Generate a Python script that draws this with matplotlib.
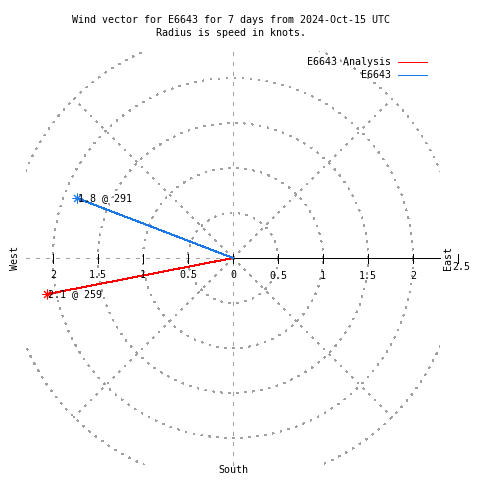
import numpy as np
import matplotlib
matplotlib.use('Agg')
from matplotlib import pyplot as plt
from matplotlib.patches import Rectangle

# chart data
title_lines = ['Wind vector for E6643 for 7 days from 2024-Oct-15 UTC',
               'Radius is speed in knots.']
series_names = ['E6643 Analysis', 'E6643']
speeds = [2.1, 1.86]          # knots
directions = [259, 291]       # degrees, clockwise from north
point_labels = ['2.1 @ 259', '1.8 @ 291']
series_colors = ['#ff0000', '#1c78e6']
ring_radii = [0.5, 1.0, 1.5, 2.0, 2.5]
spoke_angles = [45, 135, 225, 315]
left_ticks = [2, 1.5, 1, 0.5, 0]
right_ticks = [0.5, 1, 1.5, 2]
outer_tick = 2.5

# layout (pixels)
W, H = 480, 480
PX = 90.0            # pixels per knot
CX, CY = 233, 258    # centre of the plot in pixels
BOX = 2.3            # clipping box half size in knots
GREY = '#a0a0a0'
LW = 0.72            # one pixel
FS = 7.2
FONT = 'DejaVu Sans Mono'

plt.rcParams['font.family'] = FONT

fig = plt.figure(figsize=(W / 100, H / 100), dpi=100)
ax = fig.add_axes([0, 0, 1, 1])
ax.set_xlim(-CX / PX, (W - CX) / PX)
ax.set_ylim(-(H - CY) / PX, CY / PX)
ax.axis('off')

clip = Rectangle((-BOX, -BOX), 2 * BOX, 2 * BOX, transform=ax.transData,
                 fill=False, visible=False)
ax.add_patch(clip)
sparse = dict(color=GREY, lw=LW, linestyle=(0, (2, 6)), antialiased=False)
axis_dash = dict(color=GREY, lw=LW, linestyle=(0, (3, 6)), antialiased=False)

# rings and spokes
theta = np.linspace(0, 2 * np.pi, 721)
for r in ring_radii:
    ring, = ax.plot(r * np.cos(theta), r * np.sin(theta), **sparse)
    ring.set_clip_path(clip)
for a in spoke_angles:
    t = np.radians(a)
    ax.plot([0, ring_radii[-1] * np.cos(t)], [0, ring_radii[-1] * np.sin(t)], **sparse)

# axes lines
ax.plot([0, 0], [-BOX, BOX], **axis_dash)
ax.plot([-BOX, 0], [0, 0], **axis_dash)
ax.plot([0, BOX], [0, 0], color='black', lw=LW, antialiased=False)

tl = 4.5 / PX
for v in left_ticks:
    ax.plot([-v, -v], [-tl, tl], color='black', lw=LW, antialiased=False)
    ax.text(-v, -17.5 / PX, f'{v:g}', ha='center', va='center', fontsize=FS)
for v in right_ticks:
    ax.plot([v, v], [-tl, tl], color='black', lw=LW, antialiased=False)
    ax.text(v, -18 / PX, f'{v:g}', ha='center', va='center', fontsize=FS)
ax.plot([outer_tick, outer_tick], [-tl, tl], color='black', lw=LW, antialiased=False)
ax.text(outer_tick + 3 / PX, -9 / PX, f'{outer_tick:g}', ha='center', va='center', fontsize=FS)

# compass labels
ax.text(-218 / PX, 0, 'West', rotation=90, ha='center', va='center', fontsize=FS)
ax.text(215 / PX, 0, 'East', rotation=90, ha='center', va='center', fontsize=FS)
ax.text(0, -212 / PX, 'South', ha='center', va='center', fontsize=FS)

# wind vectors
for spd, d, lab, col in zip(speeds, directions, point_labels, series_colors):
    t = np.radians(d)
    x, y = spd * np.sin(t), spd * np.cos(t)
    ax.plot([0, x], [0, y], color=col, lw=LW, antialiased=False)
    ax.plot([x], [y], marker=(8, 2, 0), markersize=7, color=col, mew=LW,
            antialiased=False)
    ax.text(x + 1 / PX, y, lab, ha='left', va='center', fontsize=FS)

# legend
for i, (name, col) in enumerate(zip(series_names, series_colors)):
    yf = 1 - (62 + 13 * i) / H
    fig.text(391 / W, yf, name, ha='right', va='center', fontsize=FS)
    ax.plot([398 / W, 427 / W], [yf, yf], color=col, lw=LW,
            transform=fig.transFigure, antialiased=False)

# title
for i, line in enumerate(title_lines):
    fig.text(231.5 / W, 1 - (20 + 13 * i) / H, line, ha='center', va='center',
             fontsize=FS)

fig.savefig('out.png', dpi=100)
